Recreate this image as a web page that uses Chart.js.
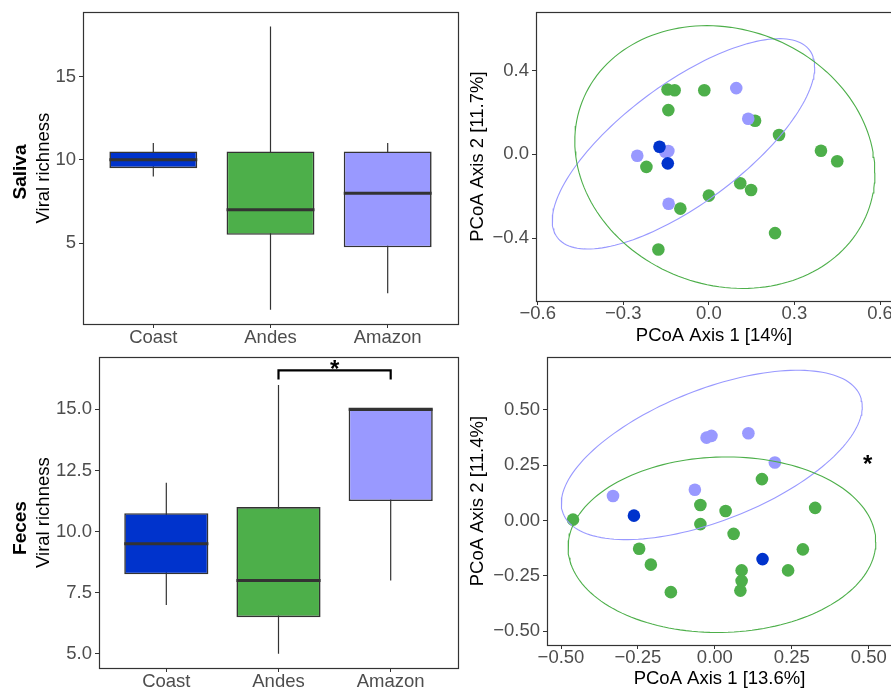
<!DOCTYPE html>
<html><head><meta charset="utf-8">
<script src="https://cdn.jsdelivr.net/npm/chart.js@4.4.0/dist/chart.umd.min.js"></script>
<style>
html,body{margin:0;padding:0;background:#fff;}
#wrap{position:relative;width:891px;height:689px;overflow:hidden;background:#fff;}
canvas{position:absolute;}
.facet{position:absolute;font:bold 19px "Liberation Sans",Arial,sans-serif;line-height:1;color:#000;white-space:nowrap;transform:translate(-50%,-50%) rotate(-90deg);}
</style></head><body>
<div id="wrap">
<canvas id="c1" width="460" height="345" style="left:0;top:0;width:460px;height:345px"></canvas>
<canvas id="c2" width="440" height="345" style="left:460px;top:0;width:440px;height:345px"></canvas>
<canvas id="c3" width="460" height="344" style="left:0;top:345px;width:460px;height:344px"></canvas>
<canvas id="c4" width="440" height="344" style="left:460px;top:345px;width:440px;height:344px"></canvas>
<div class="facet" style="left:19px;top:172px">Saliva</div>
<div class="facet" style="left:19px;top:528px">Feces</div>
</div>
<script>
// ---------- DATA ----------
const boxCategories = ['Coast', 'Andes', 'Amazon'];
const boxColors = ['#0033CC', '#4DAF4A', '#9999FF'];

// Saliva viral richness (boxplot stats)
const salivaMin    = [9, 1, 2];
const salivaQ1     = [9.5, 5.5, 4.75];
const salivaMedian = [10, 7, 8];
const salivaQ3     = [10.5, 10.5, 10.5];
const salivaMax    = [11, 18, 11];
const salivaYRange = [0.15, 18.85];
const salivaYTicks = [5, 10, 15];

// Feces viral richness (boxplot stats)
const fecesMin    = [7, 5, 8];
const fecesQ1     = [8.25, 6.5, 11.25];
const fecesMedian = [9.5, 8, 15];
const fecesQ3     = [10.75, 11, 15];
const fecesMax    = [12, 16, 15];
const fecesYRange = [4.42, 17.13];
const fecesYTicks = [5, 7.5, 10, 12.5, 15];
const fecesBracket = [2, 3, 16.22, 16.59];   // from cat, to cat, tip y, bar y
const fecesBoxStar = [2.5, 16.9];

// Saliva PCoA
const salivaAndesX  = [-0.145, -0.120, -0.016, -0.142, 0.162, 0.246, 0.393, 0.450, -0.219, 0.000, 0.110, 0.148, -0.100, 0.232, -0.177];
const salivaAndesY  = [0.309, 0.306, 0.306, 0.211, 0.160, 0.092, 0.017, -0.033, -0.060, -0.197, -0.138, -0.170, -0.259, -0.376, -0.454];
const salivaAmazonX = [0.096, 0.138, -0.251, -0.153, -0.142, -0.141];
const salivaAmazonY = [0.316, 0.170, -0.007, 0.012, 0.016, -0.236];
const salivaCoastX  = [-0.173, -0.144];
const salivaCoastY  = [0.036, -0.043];
const salivaEllipseAndes  = [0.056, -0.013, 0.526, 0.627, -0.12];  // cx, cy, rx, ry, rho
const salivaEllipseAmazon = [-0.089, 0.050, 0.460, 0.502, 0.73];
const salivaPcoaXRange = [-0.606, 0.642];
const salivaPcoaYRange = [-0.700, 0.678];
const salivaPcoaXTicks = [-0.6, -0.3, 0, 0.3, 0.6];
const salivaPcoaYTicks = [-0.4, 0, 0.4];

// Feces PCoA
const fecesAndesX  = [-0.461, -0.246, -0.208, -0.143, -0.047, -0.047, 0.035, 0.061, 0.087, 0.087, 0.083, 0.153, 0.238, 0.286, 0.326];
const fecesAndesY  = [0.004, -0.127, -0.199, -0.323, 0.070, -0.016, 0.043, -0.060, -0.225, -0.272, -0.316, 0.187, -0.225, -0.130, 0.057];
const fecesAmazonX = [-0.331, -0.065, -0.027, -0.011, 0.109, 0.195];
const fecesAmazonY = [0.111, 0.139, 0.374, 0.382, 0.394, 0.262];
const fecesCoastX  = [-0.263, 0.155];
const fecesCoastY  = [0.022, -0.174];
const fecesEllipseAndes  = [0.023, -0.109, 0.500, 0.396, 0.03];
const fecesEllipseAmazon = [-0.010, 0.296, 0.489, 0.382, 0.57];
const fecesPcoaXRange = [-0.5455, 0.5757];
const fecesPcoaYRange = [-0.5615, 0.7367];
const fecesPcoaXTicks = [-0.5, -0.25, 0, 0.25, 0.5];
const fecesPcoaYTicks = [-0.5, -0.25, 0, 0.25, 0.5];
const fecesPcoaStar = [0.497, 0.283];

// ---------- STYLE / HELPERS ----------
const FONT_FAMILY = '"Liberation Sans", Arial, Helvetica, sans-serif';
Chart.defaults.font.family = FONT_FAMILY;
const TICK_FONT = {size: 18.5, lineHeight: 1};
const TITLE_FONT = {size: 18.5, lineHeight: 1};
const DARK = '#333333';
const BOX_WIDTH = 0.75;

const fmt = d => v => Number(v).toFixed(d).replace('-', '\u2212');
const fixedTicks = arr => s => { s.ticks = arr.map(v => ({value: v})); };
const zip = (xs, ys) => xs.map((x, i) => ({x, y: ys[i]}));

function ellipsePoints(p) {
  const [cx, cy, rx, ry, rho] = p;
  const s = Math.sqrt(1 - rho * rho);
  const pts = [];
  for (let i = 0; i <= 160; i++) {
    const t = 2 * Math.PI * i / 160;
    pts.push({x: cx + rx * Math.cos(t), y: cy + ry * (rho * Math.cos(t) + s * Math.sin(t))});
  }
  return pts;
}

function makeScale(o) {
  return {
    type: 'linear', min: o.range[0], max: o.range[1], bounds: 'data', offset: false, beginAtZero: false,
    afterBuildTicks: fixedTicks(o.ticks),
    afterFit: s => { if (o.isX) s.height = o.size; else s.width = o.size; },
    grid: {display: true, drawOnChartArea: false, drawTicks: true, tickLength: 4, color: DARK, tickColor: DARK, lineWidth: 1, offset: false},
    border: {display: false},
    ticks: {color: '#4D4D4D', font: TICK_FONT, padding: o.tickPad, autoSkip: false, maxRotation: 0, minRotation: 0, callback: o.format},
    title: o.title ? {display: true, text: o.title, color: '#000', font: TITLE_FONT,
      padding: o.isX ? {top: 0, bottom: o.titlePad} : {top: o.titlePad, bottom: 0}} : {display: false}
  };
}

const framePlugin = {
  id: 'frame',
  afterDatasetsDraw(chart) {
    const {ctx, chartArea: a} = chart;
    ctx.save();
    ctx.strokeStyle = DARK; ctx.lineWidth = 1.2;
    ctx.strokeRect(Math.round(a.left) + 0.5, Math.round(a.top) + 0.5, Math.round(a.right - a.left), Math.round(a.bottom - a.top));
    ctx.restore();
  }
};
const starPlugin = {
  id: 'stars',
  afterDatasetsDraw(chart, args, opts) {
    if (!opts || !opts.points) return;
    const {ctx} = chart, xs = chart.scales.x, ys = chart.scales.y;
    ctx.save();
    ctx.fillStyle = '#000';
    ctx.font = 'bold ' + opts.size + 'px ' + FONT_FAMILY;
    ctx.textAlign = 'center'; ctx.textBaseline = 'alphabetic';
    opts.points.forEach(([x, y]) => ctx.fillText('*', xs.getPixelForValue(x), ys.getPixelForValue(y) + opts.size * 0.585));
    ctx.restore();
  }
};
Chart.register(framePlugin, starPlugin);

const halfBox = ctx => {
  const s = ctx.chart.scales.x;
  return Math.abs(s.getPixelForValue(1 + BOX_WIDTH / 2) - s.getPixelForValue(1));
};

function boxDatasets(mins, q1, med, q3, maxs) {
  const xs = boxCategories.map((_, i) => i + 1);
  return [
    {type: 'line', order: 0, data: xs.map((x, i) => ({x, y: med[i]})), showLine: false,
     pointStyle: 'line', pointRadius: halfBox, pointHoverRadius: halfBox, pointBorderWidth: 3, pointBorderColor: DARK, pointBackgroundColor: DARK},
    {type: 'bar', order: 1, grouped: false, data: xs.map((x, i) => ({x, y: [q1[i], q3[i]]})),
     backgroundColor: boxColors, borderColor: DARK, borderWidth: 1.6, borderSkipped: false,
     categoryPercentage: BOX_WIDTH, barPercentage: 1, inflateAmount: 0},
    {type: 'bar', order: 2, grouped: false, data: xs.map((x, i) => ({x, y: [mins[i], maxs[i]]})),
     backgroundColor: DARK, maxBarThickness: 1.2, categoryPercentage: 1, barPercentage: 1, inflateAmount: 0}
  ];
}

function baseOptions(W, H, area) {
  return {
    responsive: false, animation: false, events: [],
    layout: {autoPadding: false, padding: {left: 0, top: area.t, right: W - area.r, bottom: 0}},
    plugins: {legend: {display: false}, tooltip: {enabled: false}}
  };
}

// ---------- PANEL 1: Saliva boxplot ----------
(function () {
  const W = 460, H = 345, area = {l: 83, t: 12, r: 458, b: 324};
  const opts = baseOptions(W, H, area);
  opts.scales = {
    x: makeScale({range: [0.4, 3.6], ticks: [1, 2, 3], isX: true, size: H - area.b, tickPad: 0.5,
      format: v => boxCategories[Math.round(v) - 1]}),
    y: makeScale({range: salivaYRange, ticks: salivaYTicks, isX: false, size: area.l, tickPad: 3,
      format: fmt(0), title: 'Viral richness', titlePad: 34.75})
  };
  new Chart(document.getElementById('c1'), {type: 'bar',
    data: {datasets: boxDatasets(salivaMin, salivaQ1, salivaMedian, salivaQ3, salivaMax)}, options: opts});
})();

// ---------- PANEL 3: Feces boxplot ----------
(function () {
  const W = 460, H = 344, area = {l: 99, t: 11, r: 458, b: 323};
  const opts = baseOptions(W, H, area);
  opts.scales = {
    x: makeScale({range: [0.4, 3.6], ticks: [1, 2, 3], isX: true, size: H - area.b, tickPad: 0.5,
      format: v => boxCategories[Math.round(v) - 1]}),
    y: makeScale({range: fecesYRange, ticks: fecesYTicks, isX: false, size: area.l, tickPad: 3,
      format: fmt(1), title: 'Viral richness', titlePad: 34.75})
  };
  opts.plugins.stars = {points: [fecesBoxStar], size: 24};
  const ds = boxDatasets(fecesMin, fecesQ1, fecesMedian, fecesQ3, fecesMax);
  ds.push({type: 'line', order: 0, data: [
      {x: fecesBracket[0], y: fecesBracket[2]}, {x: fecesBracket[0], y: fecesBracket[3]},
      {x: fecesBracket[1], y: fecesBracket[3]}, {x: fecesBracket[1], y: fecesBracket[2]}],
    borderColor: '#000', borderWidth: 2.2, pointRadius: 0, fill: false, tension: 0});
  new Chart(document.getElementById('c3'), {type: 'bar', data: {datasets: ds}, options: opts});
})();

// ---------- PCoA panels ----------
function pcoaChart(id, W, H, area, d) {
  const opts = baseOptions(W, H, area);
  opts.scales = {
    x: makeScale({range: d.xRange, ticks: d.xTicks, isX: true, size: H - area.b, tickPad: 0,
      format: fmt(d.dec), title: d.xTitle, titlePad: d.xTitlePad}),
    y: makeScale({range: d.yRange, ticks: d.yTicks, isX: false, size: area.l, tickPad: 3,
      format: fmt(d.dec), title: d.yTitle, titlePad: 8.75})
  };
  if (d.star) opts.plugins.stars = {points: [d.star], size: 24};
  const pt = (data, color, order) => ({data, order, backgroundColor: color, borderWidth: 0, pointRadius: 6.3, pointHoverRadius: 6.3});
  const el = (data, color) => ({data, order: 0, showLine: true, borderColor: color, borderWidth: 1.1, pointRadius: 0, fill: false, tension: 0});
  new Chart(document.getElementById(id), {type: 'scatter', data: {datasets: [
    el(ellipsePoints(d.ellAndes), boxColors[1]),
    el(ellipsePoints(d.ellAmazon), boxColors[2]),
    pt(d.coast, boxColors[0], 1),
    pt(d.amazon, boxColors[2], 2),
    pt(d.andes, boxColors[1], 3)
  ]}, options: opts});
}

pcoaChart('c2', 440, 345, {l: 76, t: 12, r: 432, b: 301}, {
  xRange: salivaPcoaXRange, yRange: salivaPcoaYRange, xTicks: salivaPcoaXTicks, yTicks: salivaPcoaYTicks, dec: 1,
  xTitle: 'PCoA Axis 1 [14%]', yTitle: 'PCoA Axis 2 [11.7%]', xTitlePad: 0,
  andes: zip(salivaAndesX, salivaAndesY), amazon: zip(salivaAmazonX, salivaAmazonY), coast: zip(salivaCoastX, salivaCoastY),
  ellAndes: salivaEllipseAndes, ellAmazon: salivaEllipseAmazon
});

pcoaChart('c4', 440, 344, {l: 87, t: 11, r: 432, b: 300}, {
  xRange: fecesPcoaXRange, yRange: fecesPcoaYRange, xTicks: fecesPcoaXTicks, yTicks: fecesPcoaYTicks, dec: 2,
  xTitle: 'PCoA Axis 1 [13.6%]', yTitle: 'PCoA Axis 2 [11.4%]', xTitlePad: 1,
  andes: zip(fecesAndesX, fecesAndesY), amazon: zip(fecesAmazonX, fecesAmazonY), coast: zip(fecesCoastX, fecesCoastY),
  ellAndes: fecesEllipseAndes, ellAmazon: fecesEllipseAmazon, star: fecesPcoaStar
});
</script>
</body></html>
